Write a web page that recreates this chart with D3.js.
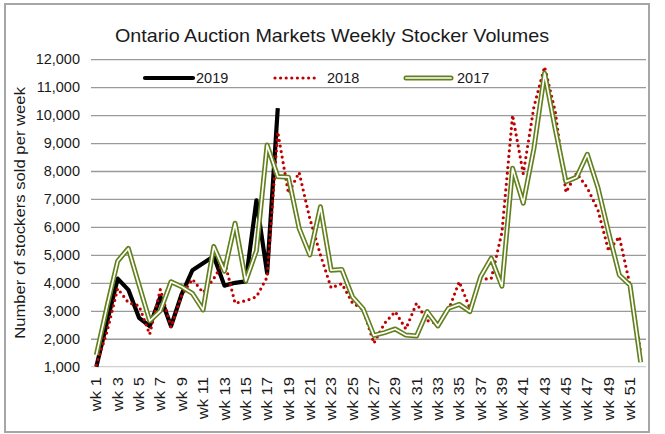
<!DOCTYPE html>
<html><head><meta charset="utf-8">
<script src="https://cdn.jsdelivr.net/npm/d3@7/dist/d3.min.js"></script>
<style>
body{margin:0;background:#fff}
svg{display:block}
text{font-family:"Liberation Sans",Arial,sans-serif;fill:#1a1a1a}
</style>
</head><body>
<svg id="chart" width="665" height="434"></svg>
<script>
const titleText = "Ontario Auction Markets Weekly Stocker Volumes";
const yAxisTitle = "Number of stockers sold per week";
const categories = ["wk 1","wk 2","wk 3","wk 4","wk 5","wk 6","wk 7","wk 8","wk 9","wk 10",
  "wk 11","wk 12","wk 13","wk 14","wk 15","wk 16","wk 17","wk 18","wk 19","wk 20",
  "wk 21","wk 22","wk 23","wk 24","wk 25","wk 26","wk 27","wk 28","wk 29","wk 30",
  "wk 31","wk 32","wk 33","wk 34","wk 35","wk 36","wk 37","wk 38","wk 39","wk 40",
  "wk 41","wk 42","wk 43","wk 44","wk 45","wk 46","wk 47","wk 48","wk 49","wk 50",
  "wk 51","wk 52"];
const xTickLabels = ["wk 1","wk 3","wk 5","wk 7","wk 9","wk 11","wk 13","wk 15","wk 17","wk 19",
  "wk 21","wk 23","wk 25","wk 27","wk 29","wk 31","wk 33","wk 35","wk 37","wk 39",
  "wk 41","wk 43","wk 45","wk 47","wk 49","wk 51"];
const yTicks = [1000,2000,3000,4000,5000,6000,7000,8000,9000,10000,11000,12000];

const values2019 = [1000,2600,4150,3750,2750,2450,3500,2450,3600,4450,4700,4950,3900,4000,4050,6950,4350,10250];
const values2018 = [1060,2250,3800,3290,3180,2160,3770,2410,3560,4130,3650,4150,4800,3270,3360,3500,4200,9400,7200,7950,
  6300,5000,3820,3970,3280,3050,1840,2550,2970,2350,3270,2650,2530,3030,4040,3090,4130,4150,5800,10000,
  7900,10300,11730,10120,7240,7920,7400,6600,5140,5650,3920,1500];
const values2017 = [1420,3150,4780,5230,3920,2640,3000,4040,3860,3620,3030,5300,4420,6130,4070,5150,8930,7800,7780,5950,
  5000,6720,4450,4480,3500,3070,2120,2220,2350,2130,2100,2970,2460,3090,3230,2970,4220,4880,3880,8100,
  6850,8810,11500,9500,7620,7780,8600,7400,5800,4280,3920,1160];
const seriesNames = ["2019","2018","2017"];

const svg = d3.select("#chart");
const W = 665, H = 434;
const plot = {left: 91, right: 646, top: 59.2, bottom: 366.7};

// outer frame
svg.append("rect").attr("x",5).attr("y",4).attr("width",644).attr("height",428)
  .attr("fill","#fff").attr("stroke","#a6a6a6").attr("stroke-width",2);

const x = d3.scaleBand().domain(categories).range([plot.left, plot.right]).paddingInner(0).paddingOuter(0);
const cx = c => x(c) + x.bandwidth()/2;
const y = d3.scaleLinear().domain([1000,12000]).range([plot.bottom, plot.top]);

// gridlines
svg.append("g").attr("transform",`translate(${plot.left},0)`)
  .call(d3.axisLeft(y).tickValues(yTicks.slice(1)).tickSize(-(plot.right-plot.left)).tickFormat(""))
  .call(g=>g.select(".domain").remove())
  .call(g=>g.selectAll("line").attr("stroke","#9a9a9a").attr("stroke-width",1.3));

// x axis line
svg.append("line").attr("x1",plot.left).attr("x2",plot.right)
  .attr("y1",y(1000)).attr("y2",y(1000)).attr("stroke","#d0d0d0").attr("stroke-width",1.3);

// y tick labels
svg.append("g").attr("transform",`translate(80,0)`)
  .call(d3.axisLeft(y).tickValues(yTicks).tickSize(0).tickPadding(0).tickFormat(d3.format(",")))
  .call(g=>g.select(".domain").remove())
  .call(g=>g.selectAll("text").attr("font-size","14.5px").attr("fill","#1a1a1a")
     .attr("font-family",'"Liberation Sans",Arial,sans-serif'));

// x tick labels
const xl = svg.append("g");
xTickLabels.forEach(lbl=>{
  xl.append("text")
    .attr("transform",`translate(${cx(lbl)},377) rotate(-90) scale(1.15,1)`)
    .attr("text-anchor","end").attr("dy","0.35em")
    .attr("font-size","14.5px").text(lbl);
});

// y axis title
svg.append("text")
  .attr("transform",`translate(20,${(plot.top+plot.bottom)/2}) rotate(-90) scale(1.15,1)`)
  .attr("text-anchor","middle").attr("dy","0.35em").attr("font-size","14.5px").text(yAxisTitle);

// title
svg.append("text").attr("x",332).attr("y",42).attr("text-anchor","middle")
  .attr("font-size","19px").attr("textLength",434).attr("lengthAdjust","spacingAndGlyphs").text(titleText);

const line = d3.line().x((d,i)=>cx(categories[i])).y(d=>y(d));

// 2019
svg.append("path").attr("d",line(values2019)).attr("fill","none")
  .attr("stroke","#000").attr("stroke-width",4.2).attr("stroke-linejoin","round");
// 2018
svg.append("path").attr("d",line(values2018)).attr("fill","none")
  .attr("stroke","#c00000").attr("stroke-width",3.2).attr("stroke-linecap","round")
  .attr("stroke-dasharray","0 5.6").attr("stroke-linejoin","round");
// 2017 double line
const green = "#62801c";
svg.append("path").attr("d",line(values2017)).attr("fill","none")
  .attr("stroke",green).attr("stroke-width",5).attr("stroke-linejoin","round");
svg.append("path").attr("d",line(values2017)).attr("fill","none")
  .attr("stroke","#fff").attr("stroke-width",1.7).attr("stroke-linejoin","round");

// legend
const ly = 78;
const lg = svg.append("g");
lg.append("line").attr("x1",145).attr("x2",193).attr("y1",ly).attr("y2",ly)
  .attr("stroke","#000").attr("stroke-width",4.2).attr("stroke-linecap","round");
lg.append("text").attr("x",196).attr("y",ly).attr("dy","0.35em").attr("font-size","14.5px").text(seriesNames[0]);
lg.append("line").attr("x1",275).attr("x2",318).attr("y1",ly).attr("y2",ly)
  .attr("stroke","#c00000").attr("stroke-width",3.2).attr("stroke-linecap","round").attr("stroke-dasharray","0 5.6");
lg.append("text").attr("x",327).attr("y",ly).attr("dy","0.35em").attr("font-size","14.5px").text(seriesNames[1]);
lg.append("line").attr("x1",406).attr("x2",451).attr("y1",ly).attr("y2",ly)
  .attr("stroke",green).attr("stroke-width",5).attr("stroke-linecap","round");
lg.append("line").attr("x1",406).attr("x2",451).attr("y1",ly).attr("y2",ly)
  .attr("stroke","#fff").attr("stroke-width",1.7).attr("stroke-linecap","round");
lg.append("text").attr("x",457).attr("y",ly).attr("dy","0.35em").attr("font-size","14.5px").text(seriesNames[2]);
</script>
</body></html>
